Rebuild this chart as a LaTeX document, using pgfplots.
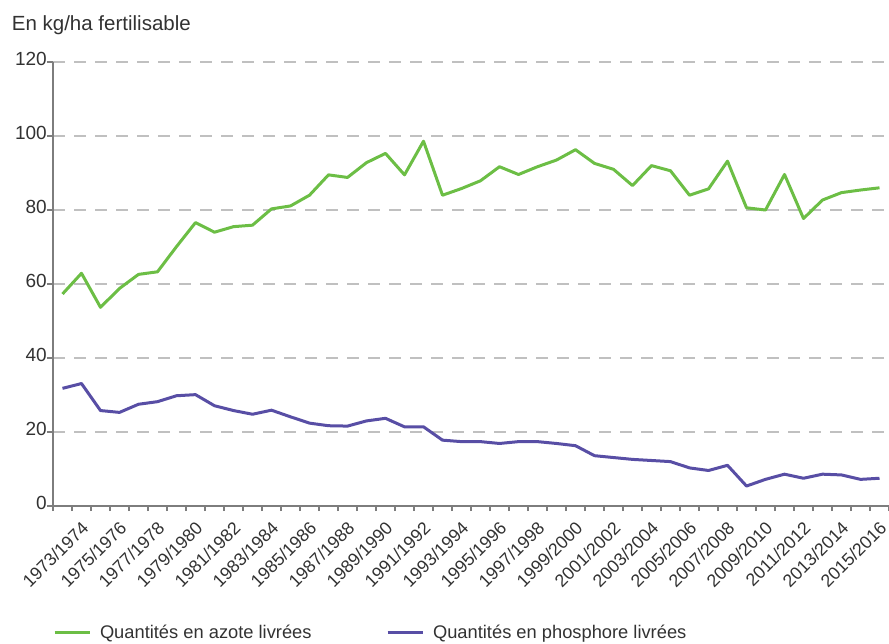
\documentclass[border=0pt]{standalone}
\usepackage{pgfplots}
\usepackage{pgfplotstable}
\pgfplotsset{compat=1.18}
\usepackage{fontspec}
\setmainfont{Liberation Sans}
\definecolor{azote}{RGB}{108,190,69}
\definecolor{phos}{RGB}{88,78,165}
\definecolor{txt}{RGB}{50,50,50}
\definecolor{gridc}{RGB}{192,192,192}
\definecolor{axc}{RGB}{125,125,125}

\pgfplotstableread{
i azote phos
0 57.3 31.8
1 62.9 33.1
2 53.7 25.8
3 58.8 25.3
4 62.6 27.5
5 63.3 28.2
6 70.1 29.8
7 76.6 30.1
8 74.0 27.1
9 75.5 25.8
10 75.9 24.8
11 80.3 25.9
12 81.1 24.1
13 84.0 22.4
14 89.5 21.7
15 88.8 21.6
16 92.8 23.0
17 95.3 23.7
18 89.5 21.4
19 98.6 21.4
20 84.0 17.8
21 85.8 17.4
22 87.9 17.4
23 91.7 16.9
24 89.6 17.4
25 91.7 17.4
26 93.5 16.9
27 96.3 16.3
28 92.6 13.6
29 91.0 13.1
30 86.6 12.6
31 92.0 12.3
32 90.6 12.0
33 84.0 10.3
34 85.7 9.6
35 93.2 11.0
36 80.6 5.4
37 80.0 7.2
38 89.6 8.6
39 77.7 7.5
40 82.7 8.6
41 84.7 8.4
42 85.4 7.2
43 86.0 7.5
}\data

\begin{document}
\begin{tikzpicture}
\path[use as bounding box] (0pt,0pt) rectangle (889pt,-643pt);
\node[anchor=base west, inner sep=0pt, text=txt, font=\fontsize{20.5}{24}\selectfont] at (11.7pt,-30.7pt) {En kg/ha fertilisable};
\begin{axis}[
  at={(53pt,-506pt)}, anchor=south west,
  scale only axis, width=836pt, height=444pt,
  xmin=-0.5, xmax=43.5, ymin=0, ymax=120,
  axis x line*=bottom, axis y line*=left,
  axis line style={draw=axc, line width=1.4pt},
  ytick={0,20,...,120},
  ymajorgrids,
  grid style={draw=gridc, line width=1.4pt, dash pattern=on 12pt off 9pt},
  xtick={1,3,...,43},
  xticklabels={1973/1974,1975/1976,1977/1978,1979/1980,1981/1982,1983/1984,1985/1986,1987/1988,1989/1990,1991/1992,1993/1994,1995/1996,1997/1998,1999/2000,2001/2002,2003/2004,2005/2006,2007/2008,2009/2010,2011/2012,2013/2014,2015/2016},
  minor xtick={-0.5,0.5,...,43.5},
  tick align=outside,
  major tick length=6pt,
  minor tick length=5pt,
  major x tick style={draw=none},
  minor x tick style={draw=axc, line width=1.4pt},
  ytick style={draw=axc, line width=1.4pt},
  /pgf/number format/assume math mode=true,
  yticklabel style={font=\fontsize{19}{22}\selectfont, text=txt, anchor=east, inner sep=0pt, yshift=3pt},
  xticklabel style={font=\fontsize{17.8}{20}\selectfont, text=txt, inner sep=0pt, xshift=-1pt, yshift=-8pt, rotate=45, anchor=north east},
  legend columns=2,
  legend cell align=left,
  legend image code/.code={\draw[#1] (0pt,0pt) -- (35pt,0pt); \path (44pt,0pt);},
  legend style={at={(0,-0.286)}, anchor=west, draw=none, fill=none, inner sep=0pt, outer sep=0pt,
    font=\fontsize{18.3}{21}\selectfont, text=txt, column sep=0pt,
    nodes={inner sep=0pt},
    /tikz/every even column/.append style={column sep=74.5pt}},
]
\addplot[azote, line width=3pt, line join=round, no markers] table[x=i, y=azote] {\data};
\addlegendentry{Quantités en azote livrées}
\addplot[phos, line width=3pt, line join=round, no markers] table[x=i, y=phos] {\data};
\addlegendentry{Quantités en phosphore livrées}
\end{axis}
\end{tikzpicture}
\end{document}
